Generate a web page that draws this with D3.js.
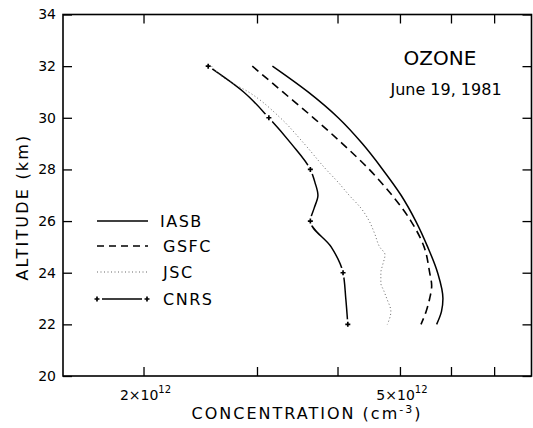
<!DOCTYPE html>
<html>
<head>
<meta charset="utf-8">
<script src="https://cdn.jsdelivr.net/npm/d3@7"></script>
<style>
  body { margin: 0; background: #fff; }
  svg { display: block; font-family: "DejaVu Sans", sans-serif; }
</style>
</head>
<body>
<svg id="chart" width="533" height="428"></svg>
<script>
// concentration in units of 1e12 cm^-3, altitude in km
var iasb = [[3.17,32],[3.60,31],[4.01,30],[4.37,29],[4.70,28],[5.02,27],[5.29,26],[5.52,25],[5.72,24],[5.83,23],[5.80,22.5],[5.70,22]];
var gsfc = [[2.95,32],[3.29,31],[3.67,30],[4.07,29],[4.48,28],[4.86,27],[5.20,26],[5.45,25],[5.56,24],[5.60,23.5],[5.56,23],[5.49,22.5],[5.39,22]];
var jsc = [[2.55,32],[2.68,31.5],[2.91,31],[3.26,30],[3.55,29],[3.84,28],[4.01,27.5],[4.17,27],[4.35,26.5],[4.48,26],[4.57,25.5],[4.65,25],[4.74,24.7],[4.70,24.3],[4.67,24],[4.67,23.6],[4.72,23.3],[4.77,23],[4.84,22.5],[4.78,22]];
var cnrsLine = [[2.52,32],[2.86,31],[3.13,30],[3.39,29],[3.63,28],[3.69,27.5],[3.73,27],[3.68,26.5],[3.63,26],[3.91,25],[4.08,24],[4.12,23],[4.15,22]];
var cnrsMarks = [[2.52,32],[3.13,30],[3.63,28],[3.63,26],[4.08,24],[4.15,22]];

var xTicks = [2,3,4,5,6,7];
var xLabels = [2,5];
var yTicks = [20,22,24,26,28,30,32,34];
var legendNames = ["IASB","GSFC","JSC","CNRS"];

var svg = d3.select("#chart");

var x = d3.scaleLog().domain([1.5, 8]).range([63, 531.5]);
var y = d3.scaleLinear().domain([20, 34]).range([376, 14.5]);

var line = d3.line()
    .x(d => x(d[0]))
    .y(d => y(d[1]))
    .curve(d3.curveMonotoneY);

// ticks
svg.append("g")
    .attr("transform", "translate(0,376)")
    .call(d3.axisBottom(x).tickValues(xTicks).tickSize(-9).tickFormat(""))
    .call(g => g.select(".domain").remove());
svg.append("g")
    .attr("transform", "translate(0,14.5)")
    .call(d3.axisTop(x).tickValues(xTicks).tickSize(-9).tickFormat(""))
    .call(g => g.select(".domain").remove());
svg.append("g")
    .attr("transform", "translate(63,0)")
    .call(d3.axisLeft(y).tickValues(yTicks).tickSize(-9).tickPadding(7).tickFormat(d3.format("d")))
    .call(g => g.select(".domain").remove())
    .call(g => g.selectAll("text").style("font-size", "14px").style("font-family", "DejaVu Sans").attr("fill", "#000"));
svg.append("g")
    .attr("transform", "translate(531.5,0)")
    .call(d3.axisRight(y).tickValues(yTicks).tickSize(-9).tickFormat(""))
    .call(g => g.select(".domain").remove());
svg.selectAll(".tick line").attr("stroke", "#000").attr("stroke-width", 1.3);

// frame
svg.append("rect")
    .attr("x", 63).attr("y", 14.5)
    .attr("width", 531.5 - 63).attr("height", 376 - 14.5)
    .attr("fill", "none").attr("stroke", "#000").attr("stroke-width", 1.6);

// bottom tick labels
xLabels.forEach(function(v) {
  var t = svg.append("text")
      .attr("x", x(v) + 2).attr("y", 400)
      .attr("text-anchor", "middle")
      .style("font-size", "14px");
  t.append("tspan").text(v + "\u00d710");
  t.append("tspan").attr("dy", -7).style("font-size", "10px").text("12");
});

// curves
svg.append("path").datum(cnrsLine)
    .attr("d", line).attr("fill", "none")
    .attr("stroke", "#000").attr("stroke-width", 1.5);
svg.selectAll(".halo").data(cnrsMarks).enter().append("circle")
    .attr("cx", d => x(d[0])).attr("cy", d => y(d[1])).attr("r", 5)
    .attr("fill", "#fff");
svg.append("path").datum(jsc)
    .attr("d", line).attr("fill", "none")
    .attr("stroke", "#666").attr("stroke-width", 1).attr("stroke-dasharray", "1,2.5");
svg.append("path").datum(gsfc)
    .attr("d", line).attr("fill", "none")
    .attr("stroke", "#000").attr("stroke-width", 1.6).attr("stroke-dasharray", "8,5");
svg.append("path").datum(iasb)
    .attr("d", line).attr("fill", "none")
    .attr("stroke", "#000").attr("stroke-width", 1.5);
svg.selectAll(".mark").data(cnrsMarks).enter().append("path")
    .attr("transform", d => "translate(" + x(d[0]) + "," + y(d[1]) + ")")
    .attr("d", d3.symbol(d3.symbolCross, 14))
    .attr("fill", "#000");

// legend
var legY = [221, 246, 272, 299];
var styles = [
  {dash: null, w: 1.5, c: "#000"},
  {dash: "7,5", w: 1.6, c: "#000"},
  {dash: "1,2.5", w: 1, c: "#666"},
  {dash: null, w: 1.5, c: "#000"}
];
legendNames.forEach(function(name, i) {
  if (i === 3) {
    svg.append("line").attr("x1", 102).attr("x2", 142).attr("y1", legY[i]).attr("y2", legY[i])
        .attr("stroke", "#000").attr("stroke-width", 1.5);
    [97, 147].forEach(function(px) {
      svg.append("path").attr("transform", "translate(" + px + "," + legY[i] + ")")
          .attr("d", d3.symbol(d3.symbolCross, 14)).attr("fill", "#000");
    });
  } else {
    svg.append("line").attr("x1", 97).attr("x2", 148).attr("y1", legY[i]).attr("y2", legY[i])
        .attr("stroke", styles[i].c).attr("stroke-width", styles[i].w)
        .attr("stroke-dasharray", styles[i].dash);
  }
  svg.append("text").attr("x", i === 0 ? 160 : 163).attr("y", legY[i] + 6)
      .style("font-size", "16px").style("letter-spacing", "1.5px").text(name);
});

// titles
svg.append("text").attr("x", 440).attr("y", 65).attr("text-anchor", "middle")
    .style("font-size", "20px").text("OZONE");
svg.append("text").attr("x", 446).attr("y", 95).attr("text-anchor", "middle")
    .style("font-size", "16px").text("June 19, 1981");

// axis titles
svg.append("text")
    .attr("transform", "translate(28,207) rotate(-90)")
    .attr("text-anchor", "middle")
    .style("font-size", "16px").style("letter-spacing", "2.2px")
    .text("ALTITUDE (km)");
var xt = svg.append("text")
    .attr("x", 307).attr("y", 419).attr("text-anchor", "middle")
    .style("font-size", "16px").style("letter-spacing", "2px");
xt.append("tspan").text("CONCENTRATION (cm");
xt.append("tspan").attr("dy", -6).style("font-size", "11px").text("-3");
xt.append("tspan").attr("dy", 6).text(")");
</script>
</body>
</html>
